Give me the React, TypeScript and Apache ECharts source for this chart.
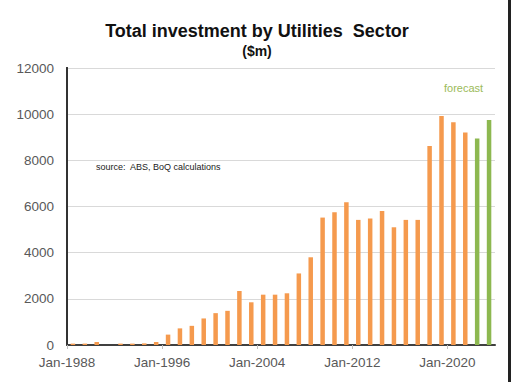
import React, { useEffect, useRef } from "react";
import * as echarts from "echarts";

const years: number[] = [
  1988, 1989, 1990, 1991, 1992, 1993, 1994, 1995, 1996, 1997, 1998, 1999,
  2000, 2001, 2002, 2003, 2004, 2005, 2006, 2007, 2008, 2009, 2010, 2011,
  2012, 2013, 2014, 2015, 2016, 2017, 2018, 2019, 2020, 2021, 2022, 2023,
];
const investment: number[] = [
  60, 60, 130, 0, 60, 60, 70, 130, 450, 720, 830, 1150,
  1380, 1480, 2340, 1850, 2180, 2180, 2240, 3100, 3800, 5520, 5750, 6180,
  5420, 5480, 5800, 5100, 5420, 5420, 8620, 9920, 9650, 9210, 8950, 9750,
];
const isForecast: boolean[] = years.map((y) => y >= 2022);
const startYear = 1988;
const endYear = 2024;
const yTicks: number[] = [0, 2000, 4000, 6000, 8000, 10000, 12000];

const ORANGE = "#F59A4E";
const GREEN = "#8DB850";

export default function App() {
  const ref = useRef<HTMLDivElement>(null);
  useEffect(() => {
    if (!ref.current) return;
    const chart = echarts.init(ref.current, undefined, { renderer: "svg" });
    const data = years.map((y, i) => ({
      value: [y - startYear + 0.5, investment[i]],
      itemStyle: { color: isForecast[i] ? GREEN : ORANGE },
    }));
    chart.setOption({
      animation: false,
      backgroundColor: "#ffffff",
      textStyle: { fontFamily: "Liberation Sans, Arial, sans-serif" },
      title: [
        {
          text: "Total investment by Utilities  Sector",
          left: "center",
          top: 17,
          textStyle: { fontSize: 18, fontWeight: "bold", color: "#111" },
        },
        {
          text: "($m)",
          left: "center",
          top: 39,
          textStyle: { fontSize: 14, fontWeight: "bold", color: "#111" },
        },
      ],
      grid: { left: 67, right: 19, top: 68, bottom: 37, containLabel: false },
      xAxis: [
        {
          type: "value",
          min: 0,
          max: endYear - startYear,
          interval: 8,
          axisLine: { show: true, lineStyle: { color: "#BFBFBF", width: 1 } },
          axisTick: { show: true, length: 4, lineStyle: { color: "#BFBFBF" } },
          splitLine: { show: false },
          axisLabel: {
            margin: 10,
            fontSize: 13.5,
            color: "#595959",
            formatter: (v: number) => "Jan-" + (startYear + v),
            showMaxLabel: false,
          },
        },
        {
          type: "value",
          position: "top",
          min: 0,
          max: endYear - startYear,
          axisLine: { show: true, lineStyle: { color: "#404040", width: 2 } },
          axisTick: { show: false },
          axisLabel: { show: false },
          splitLine: { show: false },
        },
      ],
      yAxis: [
        {
          type: "value",
          min: 0,
          max: 12000,
          interval: 2000,
          axisLine: { show: true, lineStyle: { color: "#111", width: 2 } },
          axisTick: { show: false },
          splitLine: { show: true, lineStyle: { color: "#D9D9D9", width: 1 } },
          axisLabel: {
            margin: 13,
            fontSize: 13.5,
            color: "#595959",
            formatter: (v: number) => (yTicks.includes(v) ? String(v) : ""),
          },
        },
        {
          type: "value",
          position: "right",
          min: 0,
          max: 12000,
          axisLine: { show: true, lineStyle: { color: "#333", width: 2 } },
          axisTick: { show: false },
          axisLabel: { show: false },
          splitLine: { show: false },
        },
      ],
      series: [
        {
          type: "bar",
          xAxisIndex: 0,
          yAxisIndex: 0,
          barWidth: 4.5,
          data,
        },
      ],
      graphic: [
        {
          type: "text",
          left: 96,
          top: 162,
          style: {
            text: "source:  ABS, BoQ calculations",
            fontSize: 9,
            fill: "#222",
            fontFamily: "Liberation Sans, Arial, sans-serif",
          },
        },
        {
          type: "text",
          left: 444,
          top: 82,
          style: {
            text: "forecast",
            fontSize: 11,
            fill: "#9BBB59",
            fontFamily: "Liberation Sans, Arial, sans-serif",
          },
        },
        {
          type: "line",
          shape: { x1: 509.5, y1: 0, x2: 509.5, y2: 382 },
          style: { stroke: "#222", lineWidth: 3 },
        },
      ],
    });
    return () => chart.dispose();
  }, []);
  return (
    <div
      ref={ref}
      style={{ position: "fixed", left: 0, top: 0, width: 514, height: 382 }}
    />
  );
}
